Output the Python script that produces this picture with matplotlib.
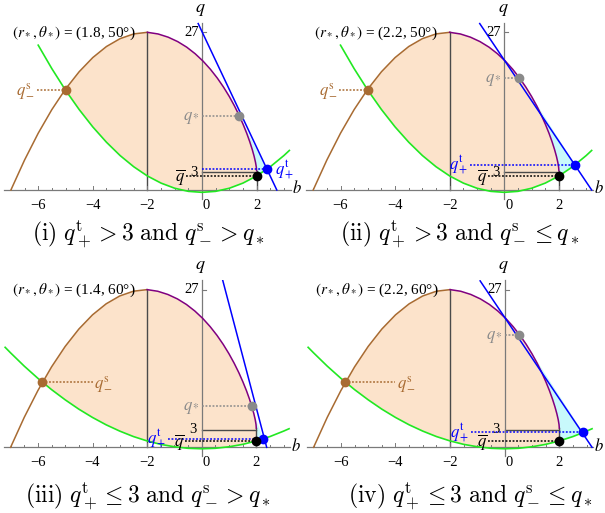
import numpy as np
import matplotlib
matplotlib.use('Agg')
import matplotlib.pyplot as plt

plt.rcParams['font.family'] = ['Liberation Serif', 'DejaVu Serif']
plt.rcParams['mathtext.fontset'] = 'stix'

# ---- shared upper boundary curve (brown for b<=-2, purple for b>=-2) ----
upper_b = [-7.0, -6.5, -6.0, -5.5, -5.0, -4.5, -4.0, -3.5, -3.0, -2.5, -2.0,
           -1.61, -1.24, -0.89, -0.56, -0.25, 0.04, 0.31, 0.56, 0.79, 1.0,
           1.19, 1.36, 1.51, 1.64, 1.75, 1.84, 1.91, 1.96, 1.99, 2.0]
upper_q = [0.0, 5.13, 9.72, 13.77, 17.28, 20.25, 22.68, 24.57, 25.92, 26.73, 27.0,
           26.72, 26.17, 25.41, 24.46, 23.33, 22.06, 20.66, 19.17, 17.61, 16.01,
           14.39, 12.78, 11.20, 9.69, 8.26, 6.94, 5.76, 4.74, 3.91, 3.3]

# ---- green curves (theta* = 50 deg and 60 deg) ----
green50_b = [-6.0, -5.5, -5.0, -4.5, -4.0, -3.5, -3.0, -2.5, -2.0, -1.5, -1.0, -0.5,
             0.0, 0.5, 1.0, 1.5, 2.0, 2.5, 3.0, 3.2]
green50_q = [24.8, 20.78, 17.1, 13.78, 10.8, 8.18, 5.9, 3.98, 2.4, 1.18, 0.3, -0.23,
             -0.4, -0.23, 0.3, 1.18, 2.4, 3.98, 5.9, 6.77]
green60_b = [-7.2, -7.0, -6.5, -6.0, -5.5, -5.0, -4.5, -4.0, -3.5, -3.0, -2.5, -2.0,
             -1.5, -1.0, -0.5, 0.0, 0.5, 1.0, 1.5, 2.0, 2.5, 3.0, 3.2]
green60_q = [17.12, 16.17, 13.90, 11.81, 9.88, 8.13, 6.53, 5.11, 3.85, 2.77, 1.84, 1.09,
             0.50, 0.09, -0.17, -0.25, -0.17, 0.09, 0.50, 1.09, 1.84, 2.77, 3.18]

# ---- per-panel values ----
r_star = [1.8, 2.2, 1.4, 2.2]
theta_star = [50, 50, 60, 60]
tan_b_top = [-0.14, -0.9, 0.77, -0.9]
tan_q_top = [28.5, 28.5, 28.6, 28.5]
tan_b_bot = [2.74, 3.2, 2.38, 3.2]
qstar_b = [1.36, 0.53, 1.83, 0.53]
qstar_q = [12.7, 19.2, 7.1, 19.2]
qplus_b = [2.37, 2.6, 2.26, 2.87]
qplus_q = [3.54, 4.3, 1.45, 2.55]
qbar_q = [2.4, 2.4, 1.09, 1.09]
qminus_b = [-5.0, -5.0, -5.84, -5.84]
qminus_q = [17.2, 17.2, 11.1, 11.1]
captions = [r'$\mathrm{(i)}\ q_+^{\mathrm{t}} > 3\ \mathrm{and}\ q_-^{\mathrm{s}} > q_*$',
            r'$\mathrm{(ii)}\ q_+^{\mathrm{t}} > 3\ \mathrm{and}\ q_-^{\mathrm{s}} \leq q_*$',
            r'$\mathrm{(iii)}\ q_+^{\mathrm{t}} \leq 3\ \mathrm{and}\ q_-^{\mathrm{s}} > q_*$',
            r'$\mathrm{(iv)}\ q_+^{\mathrm{t}} \leq 3\ \mathrm{and}\ q_-^{\mathrm{s}} \leq q_*$']
x_ticks = [-6, -4, -2, 0, 2]

BROWN = '#A86B32'
PURPLE = '#800080'
GREEN = '#22E822'
BLUE = '#0000FF'
GRAYPT = '#8A8A8A'
PEACH = '#FCE3CB'
CYAN = '#C8F9FB'
AXC = '#7A7A7A'
LINEC = '#4A4A4A'

W, H = 605, 513
fig = plt.figure(figsize=(W / 100, H / 100), dpi=100)

XL, XR = -7.25, 3.3
YB, YT = -1.5, 28.7
PXB = 27.3
PXQ = 5.84
origins = [(202.0, 190.0), (504.3, 190.0), (201.7, 447.3), (504.7, 447.3)]
cap_pos = [(148, 234), (460, 234), (148, 496), (471, 496)]

ub = np.array(upper_b)
uq = np.array(upper_q)

for i in range(4):
    ox, oy = origins[i]
    left = ox + XL * PXB
    width = (XR - XL) * PXB
    top = oy - YT * PXQ
    height = (YT - YB) * PXQ
    ax = fig.add_axes([left / W, (H - top - height) / H, width / W, height / H])
    ax.set_xlim(XL, XR)
    ax.set_ylim(YB, YT)
    ax.axis('off')

    if theta_star[i] == 50:
        gb, gq = np.array(green50_b), np.array(green50_q)
    else:
        gb, gq = np.array(green60_b), np.array(green60_q)

    bm, qm = qminus_b[i], qminus_q[i]
    qb = qbar_q[i]
    bp, qp = qplus_b[i], qplus_q[i]

    # orange region
    sel_u = ub > bm
    sel_g = (gb > bm) & (gb < 2.0)
    poly_b = [bm] + list(ub[sel_u]) + [2.0] + list(gb[sel_g][::-1])
    poly_q = [qm] + list(uq[sel_u]) + [qb] + list(gq[sel_g][::-1])
    ax.fill(poly_b, poly_q, color=PEACH, lw=0, zorder=1)

    # cyan region between purple, tangent line and green
    slope = (0 - tan_q_top[i]) / (tan_b_bot[i] - tan_b_top[i])
    line_at = tan_q_top[i] + slope * (ub - tan_b_top[i])
    cand = np.where(ub > -2.0)[0]
    it = cand[np.argmin(line_at[cand] - uq[cand])]
    sel_g2 = (gb > 2.0) & (gb < bp)
    cb = list(ub[it:]) + [2.0] + list(gb[sel_g2]) + [bp]
    cq = list(uq[it:]) + [qb] + list(gq[sel_g2]) + [qp]
    ax.fill(cb, cq, color=CYAN, lw=0, zorder=1)

    # reference lines
    ax.plot([-2, -2], [0, 27], color=LINEC, lw=1.0, zorder=2)
    ax.plot([2, 2], [0, upper_q[-1]], color=LINEC, lw=1.0, zorder=2)
    ax.plot([0, 2], [3, 3], color=LINEC, lw=1.0, zorder=2)

    # axes
    ax.plot([XL, XR - 0.05], [0, 0], color=AXC, lw=0.9, zorder=2, clip_on=False)
    ax.plot([0, 0], [YB, 28.6], color=AXC, lw=0.9, zorder=2, clip_on=False)
    for t in np.arange(-7.0, 3.01, 0.5):
        if abs(t) < 1e-9:
            continue
        L = 0.75 if abs(t - round(t)) < 1e-9 and int(round(t)) % 2 == 0 else 0.4
        ax.plot([t, t], [0, L], color=AXC, lw=0.7, zorder=2)
    ax.plot([0, 0.15], [27, 27], color=AXC, lw=0.8, zorder=2)
    for t in x_ticks:
        lab = str(t).replace('-', '\u2212')
        dx = 0.16 if t == 0 else 0.0
        ax.text(t + dx, -2.6, lab, ha='center', va='center', fontsize=10.5)
    ax.text(XR - 0.02, 0.2, r'$b$', ha='left', va='center', fontsize=12, clip_on=False)
    ax.text(-0.05, YT + 2.2, r'$q$', ha='center', va='center', fontsize=13, clip_on=False)
    ax.text(-0.12, 27, '27', ha='right', va='center', fontsize=10.5)
    ax.text(-0.17, 3.05, '3', ha='right', va='center', fontsize=10.5)

    # curves
    lm = ub <= -2.0
    ax.plot(ub[lm], uq[lm], color=BROWN, lw=1.1, zorder=3)
    rm = ub >= -2.0
    ax.plot(ub[rm], uq[rm], color=PURPLE, lw=1.1, zorder=3)
    ax.plot(gb, gq, color=GREEN, lw=1.2, zorder=3)
    ax.plot([tan_b_top[i], tan_b_bot[i]], [tan_q_top[i], 0], color=BLUE, lw=1.1, zorder=3)

    dot = (0, (1.2, 1.1))
    # q_-^s
    if i < 2:
        ax.plot([-6.05, bm], [qm, qm], color=BROWN, lw=1.1, ls=dot, zorder=3)
        ax.text(-6.1, qm - 0.2, r'$q_-^{\mathrm{s}}$', color=BROWN, ha='right', va='center', fontsize=12)
    else:
        ax.plot([bm, -4.0], [qm, qm], color=BROWN, lw=1.1, ls=dot, zorder=3)
        ax.text(-3.95, qm - 0.2, r'$q_-^{\mathrm{s}}$', color=BROWN, ha='left', va='center', fontsize=12)
    # q_*
    ax.plot([0, qstar_b[i]], [qstar_q[i], qstar_q[i]], color=GRAYPT, lw=1.1, ls=dot, zorder=3)
    ax.text(-0.08, qstar_q[i] - 0.3, r'$q_*$', color=GRAYPT, ha='right', va='center', fontsize=12)
    # q_+^t
    if i == 0:
        ax.plot([0, bp], [qp, qp], color=BLUE, lw=1.1, ls=dot, zorder=3)
        ax.text(bp + 0.32, qp - 0.2, r'$q_+^{\mathrm{t}}$', color=BLUE, ha='left', va='center', fontsize=12)
    else:
        ax.plot([-1.25, bp], [qp, qp], color=BLUE, lw=1.1, ls=dot, zorder=3)
        ax.text(-1.3, qp - 0.1, r'$q_+^{\mathrm{t}}$', color=BLUE, ha='right', va='center', fontsize=12)
    # q bar
    ax.plot([-0.6, 2.0], [qb, qb], color='black', lw=1.1, ls=dot, zorder=3)
    ax.text(-0.62, qb - 0.2, r'$\overline{q}$', color='black', ha='right', va='center', fontsize=12)

    # points
    ax.plot([bm], [qm], 'o', color=BROWN, ms=6, zorder=5)
    ax.plot([qstar_b[i]], [qstar_q[i]], 'o', color=GRAYPT, ms=6, zorder=5)
    ax.plot([bp], [qp], 'o', color=BLUE, ms=6, zorder=5)
    ax.plot([2.0], [qb], 'o', color='black', ms=6, zorder=5)

    ax.text(-6.96, 26.9, r'$(r_*,\theta_*)$' + ' = ({}, {}\u00b0)'.format(r_star[i], theta_star[i]),
            ha='left', va='center', fontsize=11, zorder=6)

    cx, cy = cap_pos[i]
    fig.text(cx / W, 1 - cy / H, captions[i], ha='center', va='center', fontsize=17,
             math_fontfamily='cm')

fig.savefig('out.png', dpi=100)
